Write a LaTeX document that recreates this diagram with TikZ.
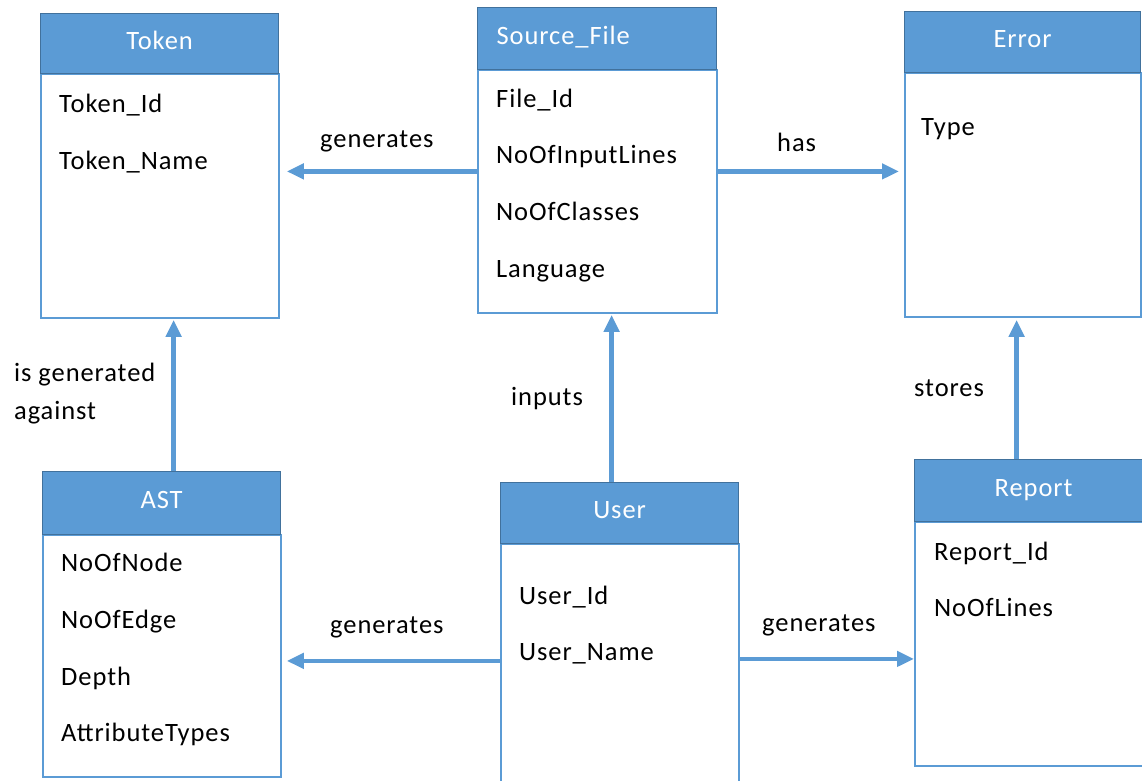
\documentclass[tikz,border=0pt]{standalone}
\usepackage{fontspec}
\setmainfont{Carlito}[LetterSpace=3.5]
\usetikzlibrary{arrows.meta}
\definecolor{hdrblue}{HTML}{5B9BD5}
\definecolor{hdrline}{HTML}{41719C}
\tikzset{
  hdr/.style={draw=hdrline, line width=1.2pt, fill=hdrblue, text=white, anchor=north west,
    minimum width=238pt, minimum height=61pt, inner sep=0pt, text height=17pt, text depth=6pt,
    font=\fontsize{26.5}{30}\selectfont},
  entbody/.style={draw=hdrblue, line width=1.8pt, fill=white, anchor=north west, inner sep=0pt},
  attr/.style={anchor=base west, inner sep=0pt, font=\fontsize{26.5}{30}\selectfont},
  lbl/.style={anchor=base west, inner sep=0pt, font=\fontsize{26.5}{30}\selectfont},
  rel/.style={draw=hdrblue, line width=4.4pt, -{Triangle[length=17pt,width=15pt]}}
}
\begin{document}
\begin{tikzpicture}[x=1pt,y=-1pt]
\useasboundingbox[fill=white] (0,0) rectangle (1142,780);

% Token
\node[entbody, minimum width=238pt, minimum height=244pt] (tok) at (40,73) {};
\node[hdr, minimum height=60pt] (tokH) at (40,13) {Token};
\node[attr] (tok1) at (59,112) {Token\_Id};
\node[attr] (tok2) at (59,169) {Token\_Name};

% Source_File
\node[entbody, minimum width=239pt, minimum height=243pt] (src) at (477,69) {};
\node[hdr, minimum width=239pt, minimum height=62pt, text width=201pt, align=left, inner xsep=19pt] (srcH) at (477,7) {Source\_File};
\node[attr] (src1) at (496,107) {File\_Id};
\node[attr] (src2) at (496,163) {NoOfInputLines};
\node[attr] (src3) at (496,220) {NoOfClasses};
\node[attr] (src4) at (496,277) {Language};

% Error
\node[entbody, minimum width=236pt, minimum height=244pt] (err) at (904,72) {};
\node[hdr, minimum width=236pt] (errH) at (904,11) {Error};
\node[attr] (err1) at (921,135) {Type};

% AST
\node[entbody, minimum width=238pt, minimum height=242pt] (ast) at (42,534) {};
\node[hdr, minimum height=63pt] (astH) at (42,471) {AST};
\node[attr] (ast1) at (61,571) {NoOfNode};
\node[attr] (ast2) at (61,628) {NoOfEdge};
\node[attr] (ast3) at (61,685) {Depth};
\node[attr] (ast4) at (61,741) {AttributeTypes};

% User
\node[entbody, minimum width=238pt, minimum height=257pt] (usr) at (500,543) {};
\node[hdr] (usrH) at (500,482) {User};
\node[attr] (usr1) at (519,604) {User\_Id};
\node[attr] (usr2) at (519,660) {User\_Name};

% Report
\node[entbody, minimum width=238pt, minimum height=244pt] (rep) at (914,521) {};
\node[hdr, minimum height=62pt] (repH) at (914,459) {Report};
\node[attr] (rep1) at (934,560) {Report\_Id};
\node[attr] (rep2) at (934,616) {NoOfLines};

% Relationships
\coordinate (c1) at ([yshift=20pt]src.west);
\draw[rel, shorten >=7pt] (c1) -- (c1 -| tok.east);
\node[lbl] (l1) at (320,147) {generates};

\coordinate (c2) at ([yshift=20pt]src.east);
\draw[rel, shorten >=5pt] (c2) -- (c2 -| err.west);
\node[lbl] (l2) at (777,151) {has};

\coordinate (c3) at ([xshift=-8pt]usrH.north);
\draw[rel, shorten >=1pt] (c3) -- (c3 |- src.south);
\node[lbl] (l3) at (511,405) {inputs};

\coordinate (c4) at ([xshift=-17pt]repH.north);
\draw[rel, shorten >=2pt] (c4) -- (c4 |- err.south);
\node[lbl] (l4) at (914,396) {stores};

\coordinate (c5) at ([xshift=12pt]astH.north);
\draw[rel, shorten >=1pt] (c5) -- (c5 |- tok.south);
\node[lbl, align=left, anchor=north west] (l5) at (14,363) {is generated\\[8pt]against};

\coordinate (c6) at ([yshift=11.5pt]usr.west);
\draw[rel, shorten >=5pt] (c6) -- (c6 -| ast.east);
\node[lbl] (l6) at (330,633) {generates};

\coordinate (c7) at ([yshift=13.5pt]usr.east);
\draw[rel] (c7) -- (c7 -| rep.west);
\node[lbl] (l7) at (762,631) {generates};
\end{tikzpicture}
\end{document}
